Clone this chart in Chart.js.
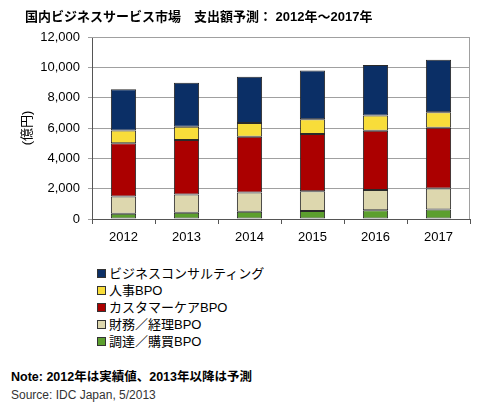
<!DOCTYPE html>
<html><head><meta charset="utf-8">
<script src="https://cdn.jsdelivr.net/npm/chart.js@4/dist/chart.umd.min.js"></script>
<style>
body{margin:0;width:500px;height:415px;background:#fff;position:relative;overflow:hidden;font-family:"Liberation Sans","Noto Sans CJK JP",sans-serif;}
#wrap{position:absolute;left:0;top:0;width:500px;height:250px;}
.t{position:absolute;white-space:nowrap;color:#000;}
#title{left:25px;top:6px;font-size:13px;font-weight:bold;}
#legend{position:absolute;left:97px;top:265px;}
.li{height:17px;line-height:17px;font-size:13px;display:flex;align-items:center;}
.bx{width:7px;height:7px;border:1px solid #333;margin-right:3px;}
#note{left:11px;top:366px;font-size:12.5px;font-weight:bold;}
#src{left:11px;top:388px;font-size:12px;color:#333;}
</style></head>
<body>
<div id="wrap"><canvas id="c"></canvas></div>
<div class="t" id="title">国内ビジネスサービス市場　支出額予測：&nbsp;2012年～2017年</div>
<div id="legend"></div>
<div class="t" id="note">Note: 2012年は実績値、2013年以降は予測</div>
<div class="t" id="src">Source: IDC Japan, 5/2013</div>
<script>
const categories = ['2012','2013','2014','2015','2016','2017'];
const procurement = [350, 420, 480, 530, 570, 620];        // 調達／購買BPO
const finance     = [1130, 1190, 1260, 1300, 1350, 1390];  // 財務／経理BPO
const customer    = [3510, 3600, 3690, 3770, 3900, 4010];  // カスタマーケアBPO
const hr          = [840, 880, 900, 970, 1000, 1020];      // 人事BPO
const consulting  = [2730, 2890, 3050, 3220, 3330, 3460];  // ビジネスコンサルティング
const yTickLabels = ['0','2,000','4,000','6,000','8,000','10,000','12,000'];

const series = [
  {label:'ビジネスコンサルティング', data:consulting, color:'#0b2f66'},
  {label:'人事BPO', data:hr, color:'#f8dd3a'},
  {label:'カスタマーケアBPO', data:customer, color:'#ab0000'},
  {label:'財務／経理BPO', data:finance, color:'#ddd7ae'},
  {label:'調達／購買BPO', data:procurement, color:'#5c9f2e'}
];

const FONT = '"Liberation Sans","Noto Sans CJK JP",sans-serif';
const frame = {
  id:'frame',
  afterDatasetsDraw(chart){
    const a = chart.chartArea, ctx = chart.ctx;
    ctx.save();
    ctx.strokeStyle = '#a0a0a0'; ctx.lineWidth = 1;
    ctx.beginPath();
    ctx.moveTo(a.left, a.top+0.5); ctx.lineTo(a.right-0.5, a.top+0.5); ctx.lineTo(a.right-0.5, a.bottom);
    ctx.stroke();
    ctx.restore();
  }
};

const datasets = series.slice().reverse().map(s => ({
  label:s.label, data:s.data, backgroundColor:s.color,
  borderColor:'#2a2a2a', borderWidth:1, borderSkipped:false,
  categoryPercentage:1.0, barPercentage:0.4
}));

const chart = new Chart(document.getElementById('c'), {
  type:'bar',
  data:{labels:categories, datasets},
  plugins:[frame],
  options:{
    responsive:true, maintainAspectRatio:false, animation:false, locale:'en-US',
    layout:{padding:{left:20, right:30, top:37, bottom:0}},
    plugins:{legend:{display:false}, tooltip:{enabled:false}, title:{display:false}},
    scales:{
      x:{
        stacked:true,
        grid:{display:true, offset:true, drawOnChartArea:false, drawTicks:true, tickLength:5, color:'#555'},
        border:{display:true, color:'#555', width:1},
        ticks:{color:'#000', font:{family:FONT, size:13}, padding:6},
        afterFit(s){ s.height = 31; }
      },
      y:{
        stacked:true, min:0, max:12000,
        grid:{color:'#a0a0a0', tickLength:4, drawTicks:true},
        border:{display:true, color:'#555', width:1},
        ticks:{stepSize:2000, color:'#000', font:{family:FONT, size:13}, padding:8,
          callback:(v,i)=>yTickLabels[i]},
        title:{display:true, text:'(億円)', color:'#000', font:{family:FONT, size:13}, padding:0},
        afterFit(s){ s.width = 92 - 20; }
      }
    }
  }
});

const lg = document.getElementById('legend');
series.forEach(s => {
  const d = document.createElement('div'); d.className='li';
  const b = document.createElement('span'); b.className='bx'; b.style.background=s.color;
  const t = document.createElement('span'); t.textContent = s.label;
  d.appendChild(b); d.appendChild(t); lg.appendChild(d);
});
</script>
</body></html>
